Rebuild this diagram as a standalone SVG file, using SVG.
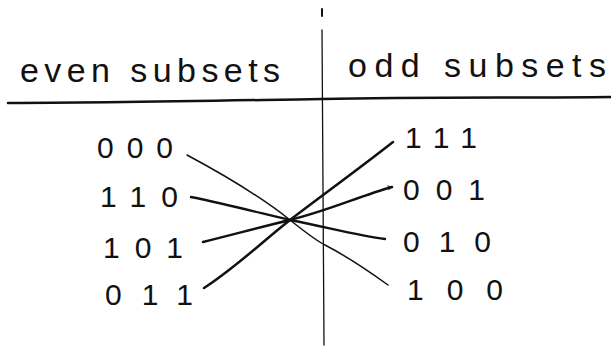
<svg xmlns="http://www.w3.org/2000/svg" width="611" height="351" viewBox="0 0 611 351">
<defs>
<style>
.hd{font-family:"Liberation Sans",Arial,sans-serif;font-size:34px;fill:#111;}
.lb{font-family:"Liberation Sans",Arial,sans-serif;font-size:30px;fill:#111;}
.ln{fill:none;stroke:#111;stroke-linecap:round;}
</style>
<marker id="ah" viewBox="0 0 10 10" refX="9" refY="5" markerWidth="6" markerHeight="6" orient="auto" markerUnits="userSpaceOnUse">
<path d="M2,1 L9,5 L2,8" fill="none" stroke="#111" stroke-width="1.5"/>
</marker>
</defs>
<rect width="611" height="351" fill="#fff"/>
<g id="frame">
<path class="ln" d="M8,103 C100,103 200,101 322,99 C420,97 520,98 611,97" stroke-width="2.5"/>
<path class="ln" d="M322,9 L322,16" stroke-width="2"/>
<path class="ln" d="M322,30 C323,150 323,250 324,345" stroke-width="1.3"/>
</g>
<g id="header-even"><text class="hd" x="20" y="82" textLength="260" lengthAdjust="spacing">even subsets</text></g>
<g id="header-odd"><text class="hd" x="348" y="77" textLength="258" lengthAdjust="spacing">odd subsets</text></g>
<g id="n000"><text class="lb" x="97" y="158" textLength="76" lengthAdjust="spacing">000</text></g>
<g id="n110"><text class="lb" x="100" y="207" textLength="78" lengthAdjust="spacing">110</text></g>
<g id="n101"><text class="lb" x="103" y="258" textLength="80" lengthAdjust="spacing">101</text></g>
<g id="n011"><text class="lb" x="105" y="305" textLength="88" lengthAdjust="spacing">011</text></g>
<g id="n111"><text class="lb" x="405" y="148" textLength="72" lengthAdjust="spacing">111</text></g>
<g id="n001"><text class="lb" x="403" y="200" textLength="82" lengthAdjust="spacing">001</text></g>
<g id="n010"><text class="lb" x="403" y="252" textLength="88" lengthAdjust="spacing">010</text></g>
<g id="n100"><text class="lb" x="407" y="300" textLength="96" lengthAdjust="spacing">100</text></g>
<g id="connectors">
<path class="ln" d="M187,155 C230,178 265,200 290,220 C305,232 315,240 325,245 C350,258 370,272 388,285" stroke-width="1.5"/>
<path class="ln" d="M191,197 C230,205 260,213 290,220 C330,228 360,236 385,239" stroke-width="2.3"/>
<path class="ln" d="M203,242 C235,234 265,226 290,220 C330,210 360,196 392,187" stroke-width="2.5" marker-end="url(#ah)"/>
<path class="ln" d="M204,288 C235,268 262,242 290,220 C320,197 360,168 393,142" stroke-width="2.5"/>
</g>
</svg>
